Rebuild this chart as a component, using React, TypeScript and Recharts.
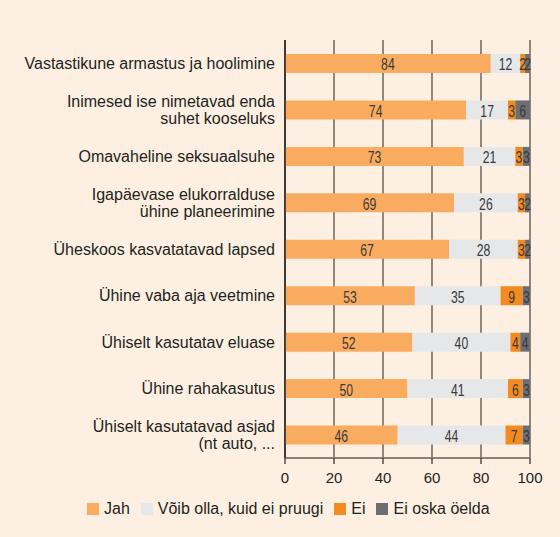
import React from 'react';
import { BarChart, Bar, XAxis, YAxis, CartesianGrid, Legend, LabelList } from 'recharts';

const categories = [
  'Vastastikune armastus ja hoolimine',
  'Inimesed ise nimetavad enda\nsuhet kooseluks',
  'Omavaheline seksuaalsuhe',
  'Igapäevase elukorralduse\nühine planeerimine',
  'Üheskoos kasvatatavad lapsed',
  'Ühine vaba aja veetmine',
  'Ühiselt kasutatav eluase',
  'Ühine rahakasutus',
  'Ühiselt kasutatavad asjad\n(nt auto, ...',
];
const jah = [84, 74, 73, 69, 67, 53, 52, 50, 46];
const voib = [12, 17, 21, 26, 28, 35, 40, 41, 44];
const ei = [2, 3, 3, 3, 3, 9, 4, 6, 7];
const eiOska = [2, 6, 3, 2, 2, 3, 4, 3, 3];
const xTicks = [0, 20, 40, 60, 80, 100];

const seriesNames = ['Jah', 'Võib olla, kuid ei pruugi', 'Ei', 'Ei oska öelda'];
const seriesKeys = ['jah', 'voib', 'ei', 'eiOska'];
const seriesColors = ['#f9ab5f', '#e6e7e8', '#f48a20', '#6d6e71'];

const data = categories.map((name, i) => ({
  name,
  jah: jah[i],
  voib: voib[i],
  ei: ei[i],
  eiOska: eiOska[i],
}));

const FONT = "'Liberation Sans', Arial, Helvetica, sans-serif";
const TEXT = '#231f20';

const YTick = (props: any) => {
  const { x, y, payload } = props;
  const lines = String(payload.value).split('\n');
  const n = lines.length;
  return (
    <g>
      {lines.map((l, i) => (
        <text
          key={i}
          x={x}
          y={y + (i - (n - 1) / 2) * 16.5}
          dy="0.36em"
          textAnchor="end"
          fill={TEXT}
          fontSize={16}
          fontFamily={FONT}
        >
          {l}
        </text>
      ))}
    </g>
  );
};

const NarrowLabel = (props: any) => {
  const { x, y, width, height, value } = props;
  const cx = Number(x) + Number(width) / 2;
  const cy = Number(y) + Number(height) / 2 + 1;
  return (
    <text
      transform={`translate(${cx},${cy}) scale(0.74,1)`}
      x={0}
      y={0}
      dy="0.36em"
      textAnchor="middle"
      fill="#3a3a3a"
      fontSize={16.5}
      fontFamily={FONT}
    >
      {value}
    </text>
  );
};

const renderLegend = () => (
  <div
    style={{
      display: 'flex',
      alignItems: 'center',
      height: 24,
      paddingLeft: 87,
      fontFamily: FONT,
      fontSize: 16,
      color: TEXT,
      whiteSpace: 'nowrap',
    }}
  >
    {seriesNames.map((n, i) => (
      <div key={n} style={{ display: 'flex', alignItems: 'center', marginRight: 11 }}>
        <span style={{ display: 'inline-block', width: 12, height: 12, background: seriesColors[i], marginRight: 5 }} />
        <span>{n}</span>
      </div>
    ))}
  </div>
);

export default function App() {
  return (
    <div style={{ position: 'absolute', left: 0, top: 0, width: 560, height: 537, background: '#fdf0e2' }}>
      <BarChart
        width={560}
        height={537}
        data={data}
        layout="vertical"
        margin={{ top: 40, right: 30, left: 0, bottom: 16 }}
        barSize={19}
      >
        <CartesianGrid horizontal={false} stroke="#564e48" strokeWidth={1.3} />
        <XAxis
          type="number"
          domain={[0, 100]}
          ticks={xTicks}
          interval={0}
          height={39}
          axisLine={{ stroke: '#8c8079', strokeWidth: 2 }}
          tickLine={{ stroke: '#3a3330', strokeWidth: 1.3 }}
          tickSize={6}
          tickMargin={8}
          tick={{ fill: TEXT, fontSize: 15, fontFamily: FONT }}
        />
        <XAxis
          xAxisId="top"
          orientation="top"
          type="number"
          domain={[0, 100]}
          height={0}
          tick={false}
          tickLine={false}
          axisLine={{ stroke: '#3a3330', strokeWidth: 1.3 }}
        />
        <YAxis
          type="category"
          dataKey="name"
          width={285}
          interval={0}
          tickSize={0}
          tickMargin={10}
          tickLine={false}
          axisLine={{ stroke: '#231f20', strokeWidth: 1.5 }}
          tick={<YTick />}
        />
        {seriesKeys.map((k, i) => (
          <Bar key={k} dataKey={k} name={seriesNames[i]} stackId="a" fill={seriesColors[i]} isAnimationActive={false}>
            <LabelList dataKey={k} content={<NarrowLabel />} />
          </Bar>
        ))}
        <Legend
          verticalAlign="bottom"
          height={24}
          content={renderLegend}
          wrapperStyle={{ left: 0, width: 560, height: 24 }}
        />
      </BarChart>
    </div>
  );
}
